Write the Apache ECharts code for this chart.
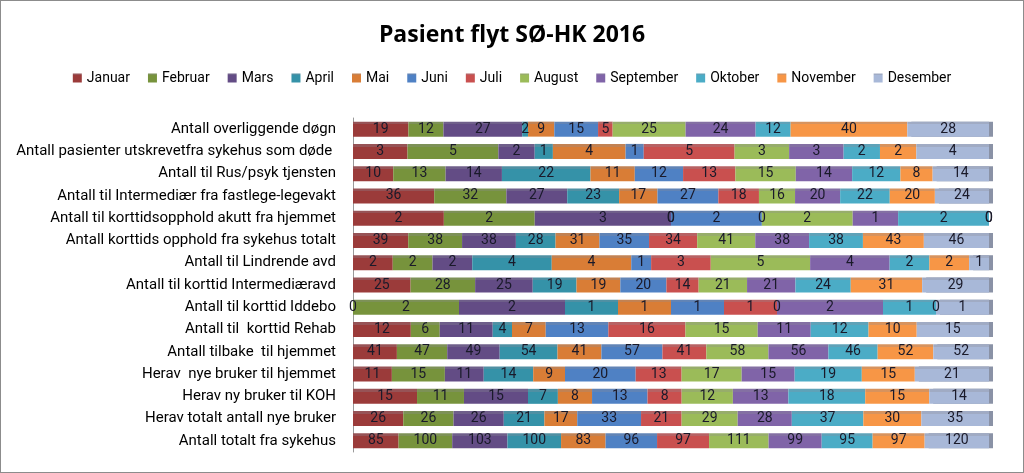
<!DOCTYPE html>
<html>
<head>
<meta charset="utf-8">
<script src="https://cdn.jsdelivr.net/npm/echarts@6/dist/echarts.min.js"></script>
<style>
html,body{margin:0;padding:0;background:#fff;}
#wrap{position:absolute;left:0;top:0;width:1022px;height:471px;border:1px solid #8c8c8c;}
#chart{width:1022px;height:471px;}
</style>
</head>
<body>
<div id="wrap"><div id="chart"></div></div>
<script>
var months = ['Januar','Februar','Mars','April','Mai','Juni','Juli','August','September','Oktober','November','Desember'];
var categories = [
  'Antall overliggende døgn',
  'Antall pasienter utskrevetfra sykehus som døde ',
  'Antall til Rus/psyk tjensten',
  'Antall til Intermediær fra fastlege-legevakt',
  'Antall til korttidsopphold akutt fra hjemmet',
  'Antall korttids opphold fra sykehus totalt',
  'Antall til Lindrende avd',
  'Antall til korttid Intermediæravd',
  'Antall til korttid Iddebo',
  'Antall til  korttid Rehab',
  'Antall tilbake  til hjemmet',
  'Herav  nye bruker til hjemmet',
  'Herav ny bruker til KOH',
  'Herav totalt antall nye bruker',
  'Antall totalt fra sykehus'
];
// one array per category row (values per month, Januar..Desember)
var rowOverliggende   = [19,12,27,2,9,15,5,25,24,12,40,28];
var rowDode           = [3,5,2,1,4,1,5,3,3,2,2,4];
var rowRusPsyk        = [10,13,14,22,11,12,13,15,14,12,8,14];
var rowIntermediarFL  = [36,32,27,23,17,27,18,16,20,22,20,24];
var rowAkuttHjemmet   = [2,2,3,0,0,2,0,2,1,2,0,0];
var rowKorttidsTotalt = [39,38,38,28,31,35,34,41,38,38,43,46];
var rowLindrende      = [2,2,2,4,4,1,3,5,4,2,2,1];
var rowIntermediarAvd = [25,28,25,19,19,20,14,21,21,24,31,29];
var rowIddebo         = [0,2,2,1,1,1,1,0,2,1,0,1];
var rowRehab          = [12,6,11,4,7,13,16,15,11,12,10,15];
var rowTilbakeHjem    = [41,47,49,54,41,57,41,58,56,46,52,52];
var rowNyeHjem        = [11,15,11,14,9,20,13,17,15,19,15,21];
var rowNyKOH          = [15,11,15,7,8,13,8,12,13,18,15,14];
var rowTotaltNye      = [26,26,26,21,17,33,21,29,28,37,30,35];
var rowTotaltSykehus  = [85,100,103,100,83,96,97,111,99,95,97,120];

var rows = [rowOverliggende,rowDode,rowRusPsyk,rowIntermediarFL,rowAkuttHjemmet,rowKorttidsTotalt,
  rowLindrende,rowIntermediarAvd,rowIddebo,rowRehab,rowTilbakeHjem,rowNyeHjem,rowNyKOH,rowTotaltNye,rowTotaltSykehus];

var colors = ['#9B3B3A','#77933C','#634C85','#3592A8','#D97D36','#4F81C4','#C9504F','#9BBB59','#8064A8','#4BACC6','#F79646','#A8B8D8'];

function shade(hex, f){
  var r=parseInt(hex.substr(1,2),16),g=parseInt(hex.substr(3,2),16),b=parseInt(hex.substr(5,2),16);
  r=Math.round(r*(1-f)+140*f);g=Math.round(g*(1-f)+140*f);b=Math.round(b*(1-f)+150*f);
  return 'rgb('+r+','+g+','+b+')';
}

var totals = rows.map(function(r){return r.reduce(function(a,b){return a+b;},0);});

var series = months.map(function(m, mi){
  var c = colors[mi];
  var s = {
    name: m,
    type: 'bar',
    stack: 'all',
    barWidth: 15,
    data: rows.map(function(r, ri){ return {value: r[mi] / totals[ri] * 100, raw: r[mi]}; }),
    itemStyle: {
      color: {type:'linear',x:0,y:0,x2:0,y2:1,colorStops:[
        {offset:0,color:shade(c,0.3)},{offset:0.18,color:shade(c,0.3)},
        {offset:0.18,color:c},{offset:1,color:c}]}
    },
    label: {
      show: true,
      position: 'inside',
      color: '#1a1a2a',
      fontFamily: 'Roboto',
      fontSize: 14,
      formatter: function(p){ return p.data.raw; }
    },
    emphasis: {disabled: true}
  };
  if (mi === 11) {
    s.itemStyle.shadowColor = '#8a92a6';
    s.itemStyle.shadowOffsetX = 4;
    s.itemStyle.shadowBlur = 0;
  }
  return s;
});

var chart = echarts.init(document.getElementById('chart'));
chart.setOption({
  animation: false,
  color: colors,
  title: {
    text: 'Pasient flyt SØ-HK 2016',
    left: 'center',
    top: 18,
    textStyle: {fontFamily: 'Open Sans', fontWeight: 'bold', fontSize: 23, color: '#000'}
  },
  legend: {
    top: 65,
    left: 'center',
    itemWidth: 9,
    itemHeight: 9,
    itemGap: 18,
    icon: 'rect',
    textStyle: {fontFamily: 'Roboto', fontSize: 14, color: '#000'},
    data: months
  },
  grid: {left: 352, right: 34, top: 117, bottom: 20},
  xAxis: {type: 'value', min: 0, max: 100, show: false},
  yAxis: {
    type: 'category',
    inverse: true,
    data: categories,
    axisLine: {show: true, lineStyle: {color: '#9a9a9a', width: 1}},
    axisTick: {show: false},
    axisLabel: {fontFamily: 'Roboto', fontSize: 15, color: '#000', margin: 17}
  },
  series: series
});
</script>
</body>
</html>
